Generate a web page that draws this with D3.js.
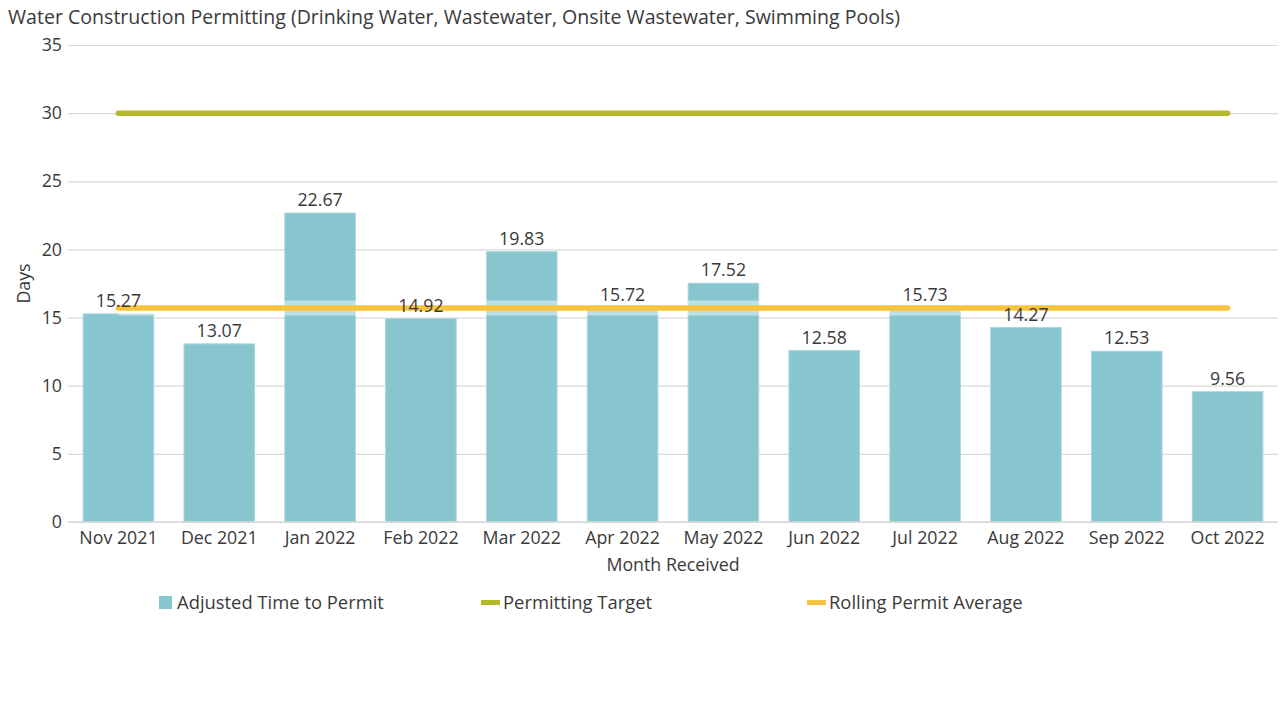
<!DOCTYPE html>
<html><head><meta charset="utf-8">
<script src="https://cdn.jsdelivr.net/npm/d3@7"></script>
<style>body{margin:0;background:#fff;font-family:"Open Sans",sans-serif;}</style>
</head><body>
<svg id="c" width="1285" height="701"></svg>
<script>
const months = ["Nov 2021","Dec 2021","Jan 2022","Feb 2022","Mar 2022","Apr 2022","May 2022","Jun 2022","Jul 2022","Aug 2022","Sep 2022","Oct 2022"];
const adjustedTime = [15.27,13.07,22.67,14.92,19.83,15.72,17.52,12.58,15.73,14.27,12.53,9.56];
const permittingTarget = [30,30,30,30,30,30,30,30,30,30,30,30];
const rollingAverage = [15.7,15.7,15.7,15.7,15.7,15.7,15.7,15.7,15.7,15.7,15.7,15.7];
const yTicks = [0,5,10,15,20,25,30,35];

const svg = d3.select("#c");
const m = {l:68, r:7, t:45, b:179};
const W = 1285, H = 701;
const x = d3.scaleBand().domain(months).range([m.l, W-m.r]).paddingInner(0.3).paddingOuter(0.15);
const y = d3.scaleLinear().domain([0,35]).range([H-m.b, m.t]);
const txt = "#3a3a3a";
const fs = 17.8;

svg.append("text").attr("x",8).attr("y",24).attr("font-size",19.3).attr("fill",txt)
  .attr("textLength",892).attr("lengthAdjust","spacingAndGlyphs")
  .text("Water Construction Permitting (Drinking Water, Wastewater, Onsite Wastewater, Swimming Pools)");

// grid
const yAxis = d3.axisLeft(y).tickValues(yTicks).tickSize(-(W-m.l-m.r)).tickPadding(6);
const gy = svg.append("g").attr("transform",`translate(${m.l},0)`).call(yAxis);
gy.select(".domain").remove();
gy.selectAll(".tick line").attr("stroke","#d9d9d9").attr("stroke-width",1.2);
gy.selectAll(".tick text").attr("font-size",fs).attr("fill",txt).attr("font-family","Open Sans");

// bars
svg.append("g").selectAll("rect").data(months).join("rect")
  .attr("x",d=>x(d)).attr("width",x.bandwidth())
  .attr("y",(d,i)=>y(adjustedTime[i])).attr("height",(d,i)=>y(0)-y(adjustedTime[i]))
  .attr("fill","#88c6cf").attr("stroke","#a9d6dc").attr("stroke-width",1);

// x axis
const xAxis = d3.axisBottom(x).tickSize(0).tickPadding(9);
const gx = svg.append("g").attr("transform",`translate(0,${y(0)})`).call(xAxis);
gx.select(".domain").attr("stroke","#d9d9d9").attr("stroke-width",1.5).attr("d",`M${m.l},0H${W-m.r}`);
gx.selectAll(".tick text").attr("font-size",fs).attr("fill",txt).attr("font-family","Open Sans");

const cx = d=>x(d)+x.bandwidth()/2;
const lineT = d3.line().x((d,i)=>cx(months[i])).y(d=>y(d));

// target line
svg.append("path").datum(permittingTarget).attr("d",lineT).attr("fill","none")
  .attr("stroke","#b6b82c").attr("stroke-width",5.5).attr("stroke-linecap","round");

// rolling average with halo
svg.append("path").datum(rollingAverage).attr("d",lineT).attr("fill","none")
  .attr("stroke","#fff").attr("stroke-opacity",0.45).attr("stroke-width",15);
svg.append("path").datum(rollingAverage).attr("d",lineT).attr("fill","none")
  .attr("stroke","#f9c33c").attr("stroke-width",5.5).attr("stroke-linecap","round");

// value labels
svg.append("g").selectAll("text").data(months).join("text")
  .attr("x",d=>cx(d)).attr("y",(d,i)=>y(adjustedTime[i])-7)
  .attr("text-anchor","middle").attr("font-size",fs).attr("fill",txt)
  .text((d,i)=>adjustedTime[i].toFixed(2));

// axis titles
svg.append("text").attr("transform",`translate(30,${(y(0)+y(35))/2}) rotate(-90)`)
  .attr("text-anchor","middle").attr("font-size",fs).attr("fill",txt).text("Days");
svg.append("text").attr("x",(m.l+W-m.r)/2).attr("y",571).attr("text-anchor","middle")
  .attr("font-size",fs).attr("fill",txt).text("Month Received");

// legend
const lfs = 18.4;
const lg = svg.append("g");
lg.append("rect").attr("x",159).attr("y",596).attr("width",13).attr("height",13).attr("fill","#88c6cf");
lg.append("text").attr("x",177).attr("y",609).attr("font-size",lfs).attr("fill",txt).text("Adjusted Time to Permit");
lg.append("rect").attr("x",481).attr("y",600).attr("width",19).attr("height",5).attr("fill","#b6b82c");
lg.append("text").attr("x",503).attr("y",609).attr("font-size",lfs).attr("fill",txt).text("Permitting Target");
lg.append("rect").attr("x",807).attr("y",600).attr("width",19).attr("height",5).attr("fill","#f9c33c");
lg.append("text").attr("x",829).attr("y",609).attr("font-size",lfs).attr("fill",txt).text("Rolling Permit Average");
</script>
</body></html>
